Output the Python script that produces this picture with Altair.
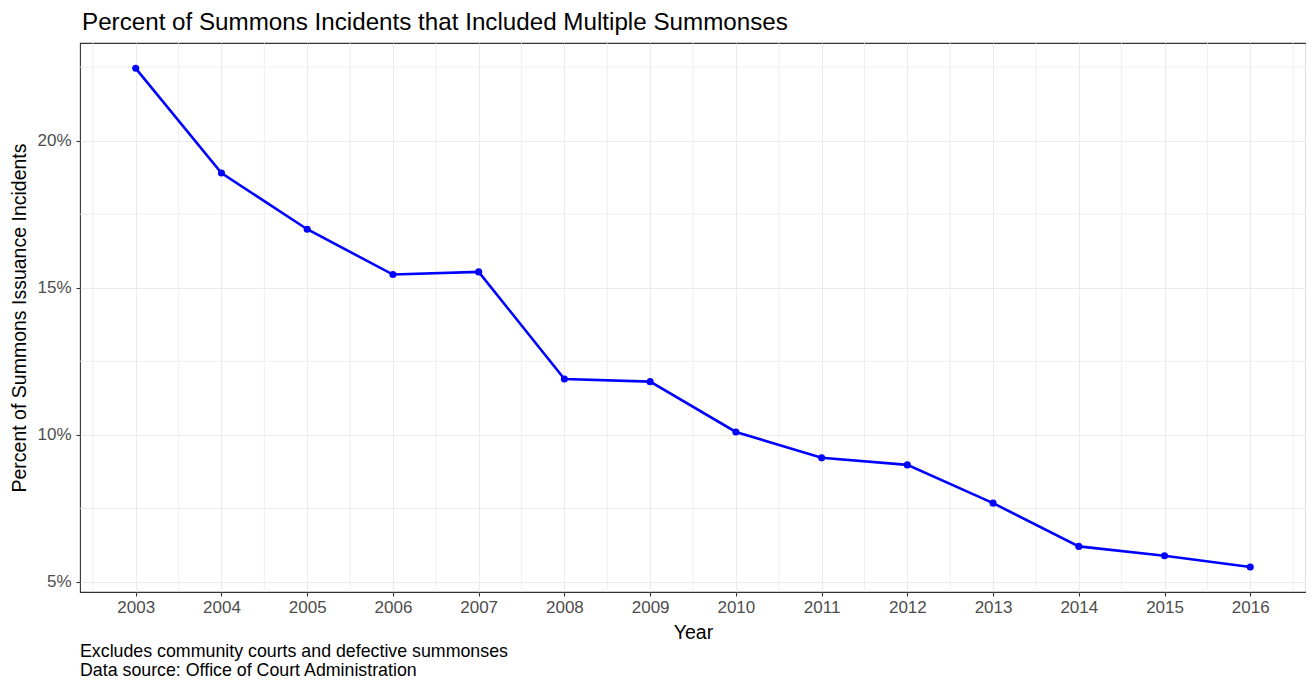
import altair as alt
import pandas as pd

years = [2003, 2004, 2005, 2006, 2007, 2008, 2009, 2010, 2011, 2012, 2013, 2014, 2015, 2016]
pct_multiple = [22.46, 18.90, 16.99, 15.45, 15.54, 11.90, 11.81, 10.10, 9.22, 8.98, 7.68, 6.21, 5.89, 5.51]
y_ticks = [5, 10, 15, 20]
y_minor = [7.5, 12.5, 17.5, 22.5]
caption_lines = ["Excludes community courts and defective summonses",
                 "Data source: Office of Court Administration"]

title_text = "Percent of Summons Incidents that Included Multiple Summonses"
x_title = "Year"
y_title = "Percent of Summons Issuance Incidents"

df = pd.DataFrame({"year": years, "pct": pct_multiple})
x_minor = [y - 0.5 for y in years] + [years[-1] + 0.5]
df_xminor = pd.DataFrame({"xm": x_minor})
df_yminor = pd.DataFrame({"ym": y_minor})
df_cap = pd.DataFrame({"cap": ["\n".join(caption_lines)]})
df_title = pd.DataFrame({"t": [title_text]})

FONT = "Liberation Sans, Arial, sans-serif"
W, H = 1226, 549
xdom = [2002.35, 2016.65]
ydom = [4.66, 23.32]

xscale = alt.Scale(domain=xdom, nice=False, zero=False)
yscale = alt.Scale(domain=ydom, nice=False, zero=False)

x_axis = alt.Axis(values=years, format="d", title=x_title, grid=True,
                  gridColor="#EBEBEB", gridWidth=1.1, domain=False,
                  tickColor="#333333", tickSize=4, tickWidth=1.1,
                  labelColor="#4D4D4D", labelFontSize=17, labelFont=FONT,
                  labelPadding=3, titleFont=FONT, titleFontSize=19.5,
                  titleFontWeight="normal", titleColor="#000000", titlePadding=8,
                  labelFlush=False)
y_axis = alt.Axis(values=y_ticks, labelExpr="datum.value + '%'", title=y_title,
                  grid=True, gridColor="#EBEBEB", gridWidth=1.1, domain=False,
                  tickColor="#333333", tickSize=4, tickWidth=1.1,
                  labelColor="#4D4D4D", labelFontSize=17, labelFont=FONT,
                  labelPadding=5, titleFont=FONT, titleFontSize=19.5,
                  titleFontWeight="normal", titleColor="#000000", titlePadding=7,
                  labelFlush=False)

xminor = alt.Chart(df_xminor).mark_rule(color="#EBEBEB", strokeWidth=0.8).encode(
    x=alt.X("xm:Q", scale=xscale, axis=x_axis))
yminor = alt.Chart(df_yminor).mark_rule(color="#EBEBEB", strokeWidth=0.8).encode(
    y=alt.Y("ym:Q", scale=yscale, axis=y_axis))

base = alt.Chart(df).encode(
    x=alt.X("year:Q", scale=xscale, axis=x_axis),
    y=alt.Y("pct:Q", scale=yscale, axis=y_axis),
)
line = base.mark_line(color="#0000FF", strokeWidth=2.6)
pts = base.mark_point(color="#0000FF", filled=True, opacity=1, size=50)

cap = alt.Chart(df_cap).mark_text(align="left", baseline="alphabetic", lineBreak="\n",
                                  lineHeight=18.5, font=FONT, fontSize=17.8,
                                  color="#000000").encode(
    text="cap:N", x=alt.value(0), y=alt.value(H + 65))

ttl = alt.Chart(df_title).mark_text(align="left", baseline="alphabetic", font=FONT,
                                    fontSize=24.2, color="#000000").encode(
    text="t:N", x=alt.value(2), y=alt.value(-13))

chart = alt.layer(xminor, yminor, line, pts, cap, ttl).properties(
    width=W, height=H,
    autosize=alt.AutoSizeParams(type="none"),
    padding={"left": 72, "top": 35, "right": 0, "bottom": 87},
).configure_view(stroke="#333333", strokeWidth=1.1)

chart.save("out.html", embed_options={"renderer": "svg", "actions": False})
